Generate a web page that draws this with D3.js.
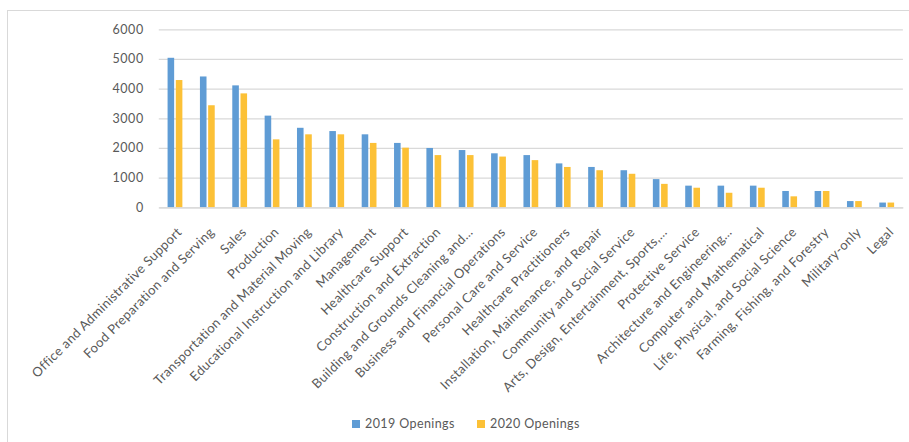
<!DOCTYPE html>
<html>
<head>
<meta charset="utf-8">
<script src="https://cdn.jsdelivr.net/npm/d3@7"></script>
<style>
  html, body { margin: 0; padding: 0; background: #fff; }
  svg { display: block; }
  text { font-family: Lato, "Open Sans", sans-serif; fill: #595959; }
</style>
</head>
<body>
<svg id="chart" width="909" height="442"></svg>
<script>
// Occupational openings by category, 2019 vs 2020
const categories = [
  "Office and Administrative Support",
  "Food Preparation and Serving",
  "Sales",
  "Production",
  "Transportation and Material Moving",
  "Educational Instruction and Library",
  "Management",
  "Healthcare Support",
  "Construction and Extraction",
  "Building and Grounds Cleaning and…",
  "Business and Financial Operations",
  "Personal Care and Service",
  "Healthcare Practitioners",
  "Installation, Maintenance, and Repair",
  "Community and Social Service",
  "Arts, Design, Entertainment, Sports,…",
  "Protective Service",
  "Architecture and Engineering…",
  "Computer and Mathematical",
  "Life, Physical, and Social Science",
  "Farming, Fishing, and Forestry",
  "Military-only",
  "Legal"
];
const openings2019 = [5040, 4410, 4110, 3090, 2680, 2570, 2460, 2170, 2000, 1930, 1820, 1760, 1480, 1360, 1250, 950, 730, 730, 730, 550, 550, 210, 160];
const openings2020 = [4290, 3440, 3840, 2290, 2460, 2460, 2170, 2010, 1760, 1760, 1710, 1590, 1360, 1250, 1130, 790, 660, 490, 660, 370, 550, 210, 160];
const seriesNames = ["2019 Openings", "2020 Openings"];
const yTicks = [0, 1000, 2000, 3000, 4000, 5000, 6000];

const colors = { "2019 Openings": "#5F9CD5", "2020 Openings": "#FCC137" };

const svg = d3.select("#chart");

// outer chart frame
svg.append("rect")
  .attr("x", 7.5).attr("y", 10.5)
  .attr("width", 920).attr("height", 460)
  .attr("fill", "none").attr("stroke", "#d9d9d9");

const plot = { left: 158.8, right: 902.9, top: 29.3, bottom: 207.3 };

const x = d3.scaleBand().domain(categories).range([plot.left, plot.right]).padding(0);
const xs = d3.scaleBand().domain(seriesNames).range([-7.4, 7.4]).paddingInner(0.2);
const y = d3.scaleLinear().domain([0, 6000]).range([plot.bottom, plot.top]);

// horizontal gridlines with value labels
const yAxis = d3.axisLeft(y).tickValues(yTicks).tickSize(-(plot.right - plot.left)).tickPadding(15).tickFormat(d3.format("d"));
const gy = svg.append("g").attr("transform", `translate(${plot.left},0)`).call(yAxis);
gy.select(".domain").remove();
gy.selectAll(".tick line").attr("stroke", "#d9d9d9").attr("stroke-width", 1.3);
gy.selectAll(".tick text").attr("font-size", 12.5).style("fill", "#595959").attr("letter-spacing", 0.6);

const data = categories.map((c, i) => ({ cat: c, values: [
  { key: seriesNames[0], value: openings2019[i] },
  { key: seriesNames[1], value: openings2020[i] }
]}));

const groups = svg.append("g").selectAll("g").data(data).join("g")
  .attr("transform", d => `translate(${x(d.cat) + x.bandwidth() / 2},0)`);

groups.selectAll("rect").data(d => d.values).join("rect")
  .attr("x", d => xs(d.key))
  .attr("width", xs.bandwidth())
  .attr("y", d => y(d.value))
  .attr("height", d => y(0) - y(d.value))
  .attr("fill", d => colors[d.key]);

// category axis with slanted labels
const xAxis = d3.axisBottom(x).tickSize(0).tickPadding(0);
const gx = svg.append("g").attr("transform", `translate(0,${plot.bottom})`).call(xAxis);
gx.select(".domain").attr("stroke", "#d9d9d9").attr("stroke-width", 1.3);
gx.selectAll(".tick text")
  .attr("font-size", 13)
  .attr("letter-spacing", 0.35)
  .style("fill", "#595959")
  .attr("text-anchor", "end")
  .attr("y", 0).attr("dy", "0.72em")
  .attr("transform", "translate(1,19) rotate(-45)");

// legend
const legend = svg.append("g");
const legendX = [352, 477];
seriesNames.forEach((s, i) => {
  const g = legend.append("g").attr("transform", `translate(${legendX[i]},420)`);
  g.append("rect").attr("width", 8).attr("height", 8).attr("fill", colors[s]);
  g.append("text").attr("x", 13).attr("y", 4).attr("dy", "0.35em")
    .attr("font-size", 12.5).attr("letter-spacing", 0.4).text(s);
});
</script>
</body>
</html>
